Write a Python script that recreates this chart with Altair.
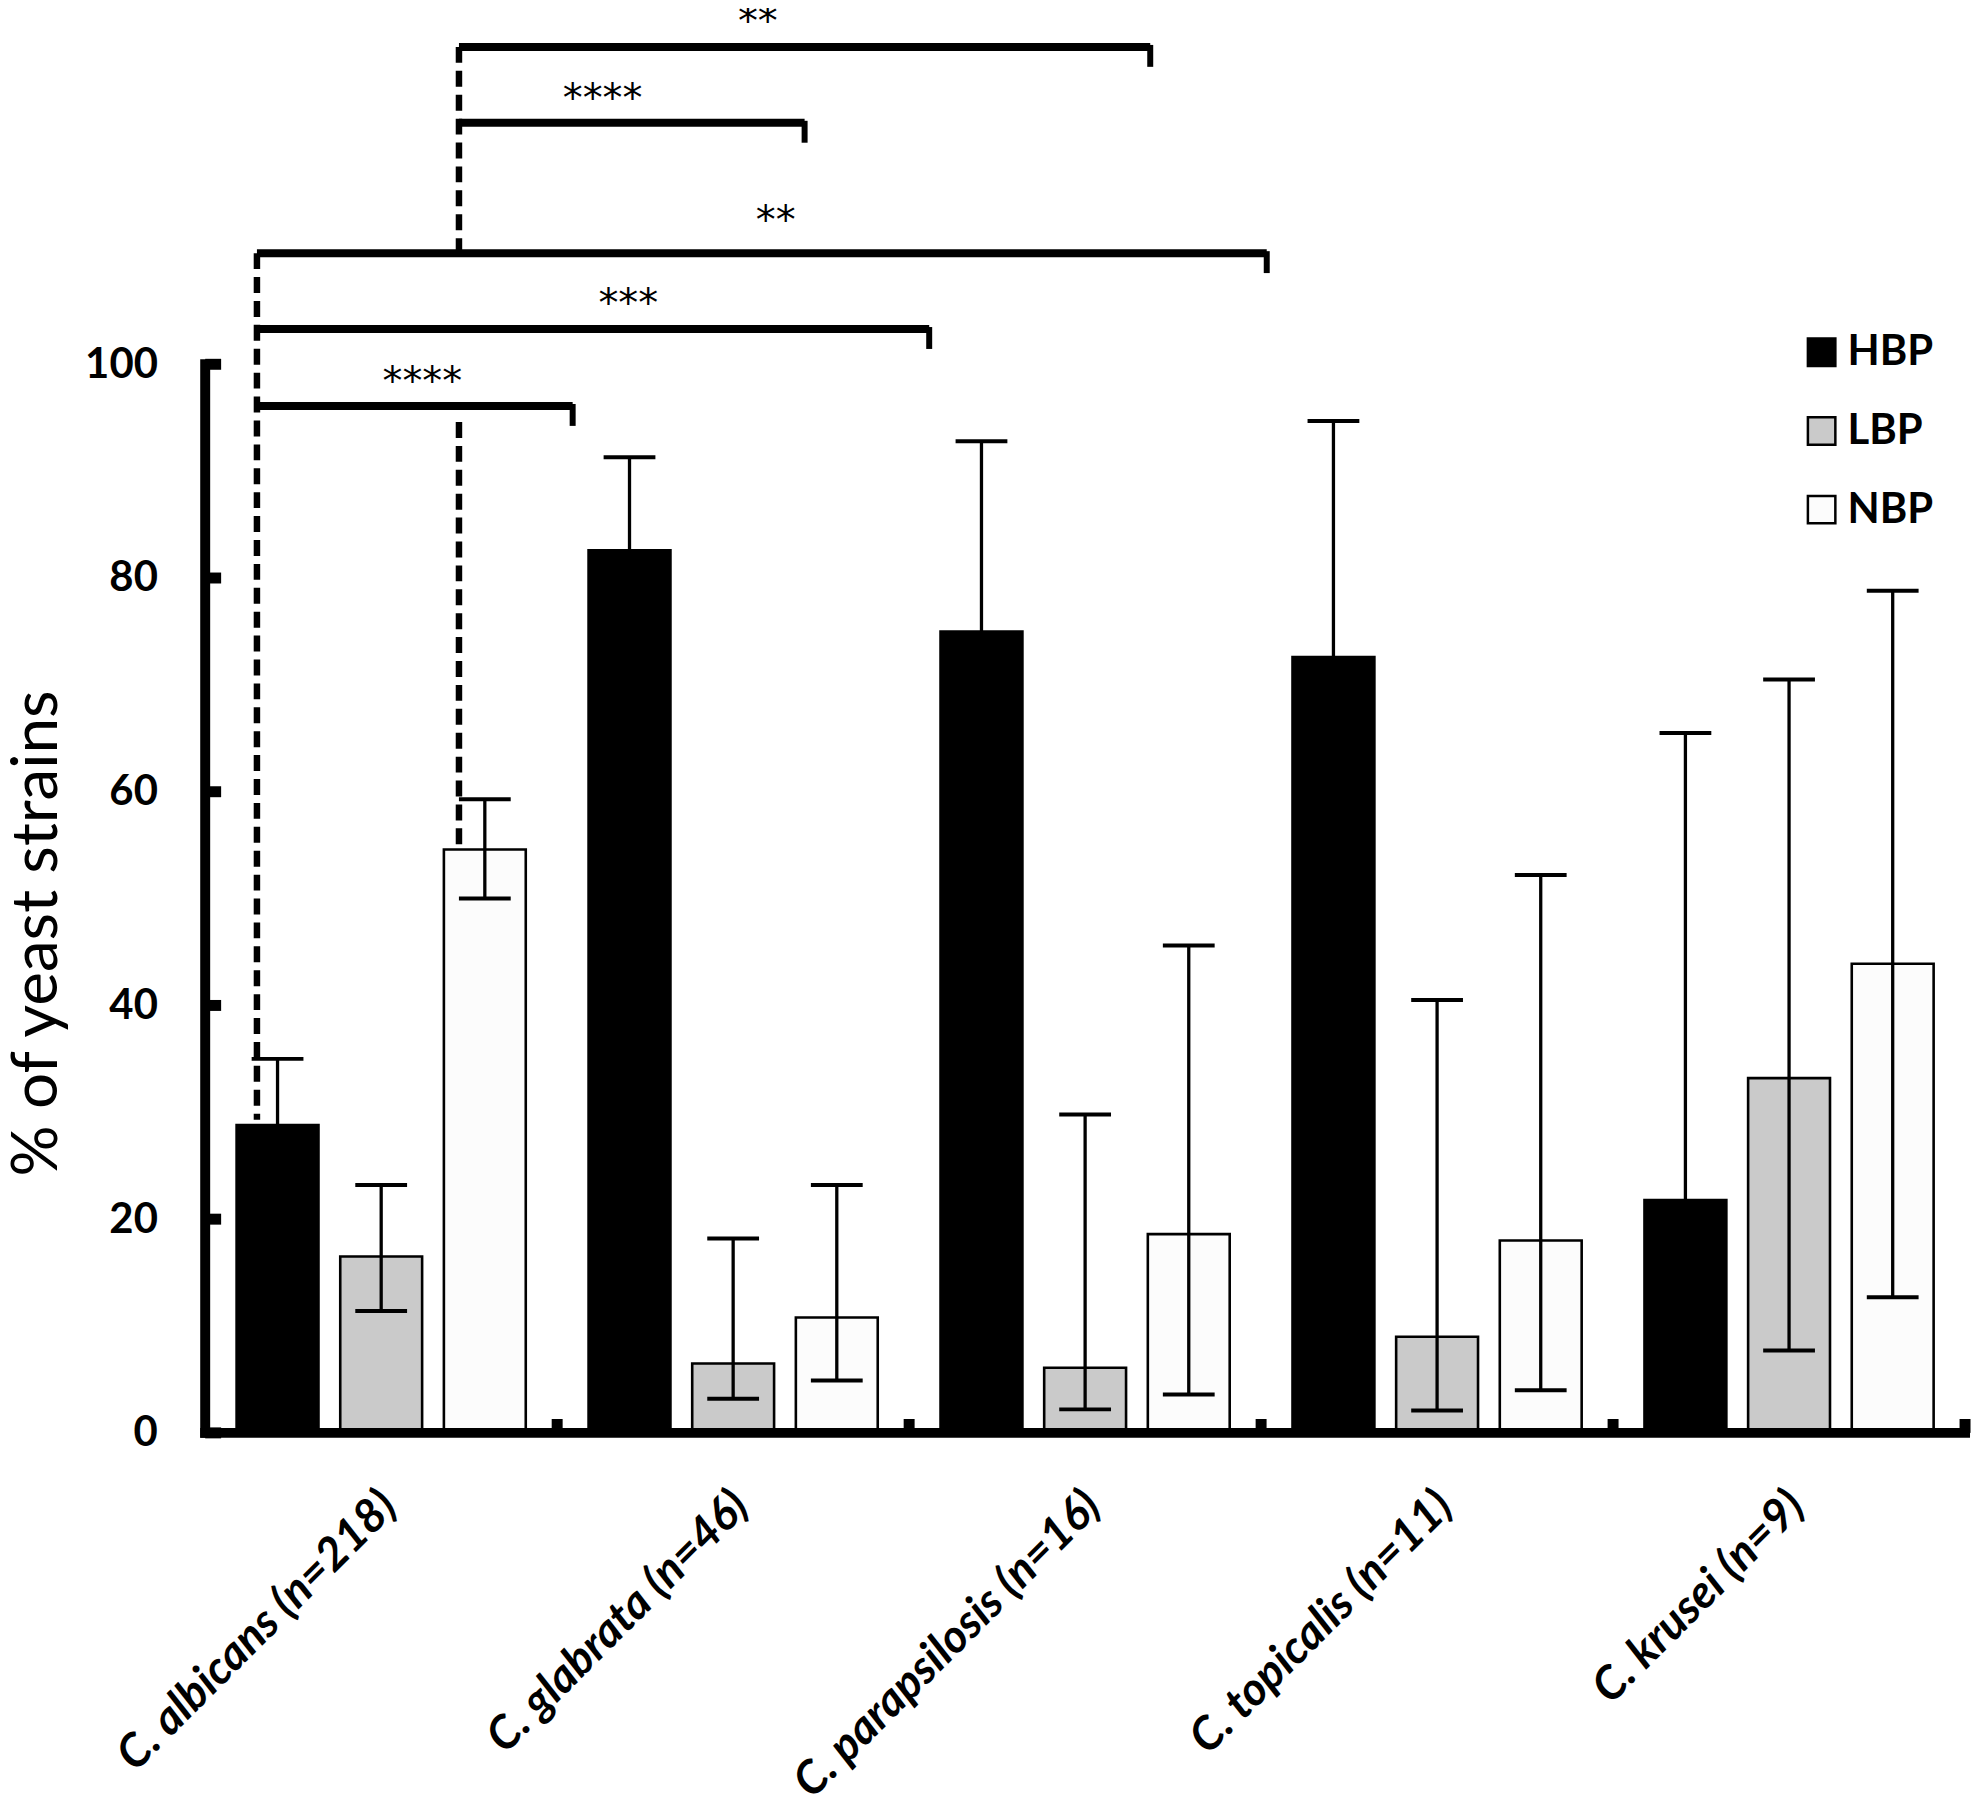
import altair as alt
import pandas as pd

# ---------------- data ----------------
species = ["C. albicans (n=218)", "C. glabrata (n=46)", "C. parapsilosis (n=16)",
           "C. topicalis (n=11)", "C. krusei (n=9)"]
series = ["HBP", "LBP", "NBP"]

hbp = [28.8, 82.6, 75.0, 72.6, 21.8]
lbp = [16.5, 6.5, 6.1, 9.0, 33.2]
nbp = [54.6, 10.8, 18.6, 18.0, 43.9]

hbp_upper = [35.0, 91.3, 92.8, 94.7, 65.5]
lbp_lower = [11.4, 3.2, 2.2, 2.1, 7.7]
lbp_upper = [23.2, 18.2, 29.8, 40.5, 70.5]
nbp_lower = [50.0, 4.9, 3.6, 4.0, 12.7]
nbp_upper = [59.3, 23.2, 45.6, 52.2, 78.8]

y_ticks = [0, 20, 40, 60, 80, 100]

# significance brackets, x in "species slot" units (0 = left edge of first group)
br_x1 = [0.721, 0.721, 0.147, 0.147, 0.147]
br_x2 = [2.685, 1.703, 3.016, 2.057, 1.044]
br_y = [129.7, 122.6, 110.4, 103.3, 96.1]
br_label = ["**", "****", "**", "***", "****"]
br_label_x = [1.570, 1.129, 1.621, 1.202, 0.617]
br_label_y = [132.6, 125.4, 114.0, 106.2, 98.9]

# dashed connectors
dash_x = [0.147, 0.721, 0.721]
dash_y1 = [110.4, 129.7, 94.6]
dash_y2 = [29.3, 110.4, 55.0]

# ---------------- tables ----------------
rows = []
vals = {"HBP": hbp, "LBP": lbp, "NBP": nbp}
lows = {"HBP": [None] * 5, "LBP": lbp_lower, "NBP": nbp_lower}
ups = {"HBP": hbp_upper, "LBP": lbp_upper, "NBP": nbp_upper}
for i, sp in enumerate(species):
    for s in series:
        rows.append({"species": sp, "series": s, "value": vals[s][i],
                     "lower": lows[s][i], "upper": ups[s][i]})
df = pd.DataFrame(rows)
df_low = df.dropna(subset=["lower"])

br = pd.DataFrame({"x1": br_x1, "x2": br_x2, "y": br_y, "label": br_label,
                   "lx": br_label_x, "ly": br_label_y})
dash = pd.DataFrame({"x": dash_x, "y1": dash_y1, "y2": dash_y2})
ticks_df = pd.DataFrame({"t": y_ticks})
sp_df = pd.DataFrame({"species": species})
zero_df = pd.DataFrame({"z": [0]})

W = 1767
H = 1427
YMAX = 133

xscale = alt.Scale(domain=species, paddingInner=0, paddingOuter=0)
xoff_scale = alt.Scale(domain=series, paddingInner=0.21, paddingOuter=0.303)
yscale = alt.Scale(domain=[0, YMAX], nice=False, zero=True)

x_axis = alt.Axis(title=None, labelAngle=-45, labelAlign="right", labelBaseline="middle",
                  labelFont="Lato", labelFontSize=46, labelFontStyle="italic",
                  labelFontWeight="bold", labelColor="black", labelPadding=66,
                  labelOffset=8, labelLimit=1000, domain=False, ticks=False, grid=False)
y_axis = alt.Axis(title="% of yeast strains", values=y_ticks, domain=False, ticks=False,
                  grid=False, labelFont="Lato", labelFontSize=42, labelFontWeight="bold",
                  labelColor="black", labelPadding=48,
                  titleFont="Lato", titleFontSize=64, titleFontWeight="normal",
                  titleColor="black", titleX=-168, titleY=925, titleAngle=270,
                  titleAlign="center", titleBaseline="middle")

X = alt.X("species:N", sort=species, scale=xscale, axis=x_axis)
XO = alt.XOffset("series:N", sort=series, scale=xoff_scale)

noview = alt.ViewBackground(stroke="transparent", strokeWidth=0)

bars = alt.Chart(df).mark_bar(stroke="black", strokeWidth=2.6).encode(
    x=X, xOffset=XO,
    y=alt.Y("value:Q", scale=yscale, axis=y_axis),
    fill=alt.Fill("series:N", sort=series,
                  scale=alt.Scale(domain=series, range=["#000000", "#cacaca", "#fcfcfc"]),
                  legend=alt.Legend(title=None, orient="none", legendX=1602, legendY=321,
                                    symbolType="square", symbolSize=760,
                                    symbolStrokeColor="black", symbolStrokeWidth=2.5,
                                    labelFont="Lato", labelFontSize=42, labelFontWeight="bold",
                                    labelColor="black", labelOffset=5, rowPadding=37)),
)

err_up = alt.Chart(df).mark_rule(color="black", strokeWidth=3.3).encode(
    x=X, xOffset=XO, y=alt.Y("value:Q"), y2="upper:Q")
err_lo = alt.Chart(df_low).mark_rule(color="black", strokeWidth=3.3).encode(
    x=X, xOffset=XO, y=alt.Y("lower:Q"), y2="value:Q")
cap_up = alt.Chart(df).mark_tick(orient="horizontal", color="black", size=52,
                                 thickness=4, opacity=1).encode(
    x=X, xOffset=XO, y=alt.Y("upper:Q"))
cap_lo = alt.Chart(df_low).mark_tick(orient="horizontal", color="black", size=52,
                                     thickness=4, opacity=1).encode(
    x=X, xOffset=XO, y=alt.Y("lower:Q"))

y_line = alt.Chart(zero_df).mark_rule(color="black", strokeWidth=10, strokeCap="square").encode(
    x=alt.value(0), y=alt.Y(datum=0), y2=alt.Y2(datum=100))
x_line = alt.Chart(zero_df).mark_rule(color="black", strokeWidth=10, strokeCap="square").encode(
    y=alt.Y(datum=0), x=alt.value(0), x2=alt.value(W))
y_tick_marks = alt.Chart(ticks_df).mark_rule(color="black", strokeWidth=11).encode(
    y=alt.Y("t:Q"), x=alt.value(0), x2=alt.value(16))
x_tick_marks = alt.Chart(sp_df).mark_rule(color="black", strokeWidth=11).encode(
    x=alt.X("species:N", sort=species, scale=xscale, bandPosition=1),
    y=alt.Y(datum=0), y2=alt.Y2(datum=1.3))

base = alt.layer(bars, err_up, err_lo, cap_up, cap_lo, y_line, x_line,
                 y_tick_marks, x_tick_marks).properties(view=noview)

qx = alt.Scale(domain=[0, 5], nice=False, zero=False)
br_lines = alt.Chart(br).mark_rule(color="black", strokeWidth=8).encode(
    x=alt.X("x1:Q", scale=qx, axis=None), x2="x2:Q", y=alt.Y("y:Q"))
br_hooks = alt.Chart(br).mark_tick(orient="vertical", color="black", size=22,
                                   thickness=6, yOffset=9, opacity=1).encode(
    x=alt.X("x2:Q", scale=qx, axis=None), y=alt.Y("y:Q"))
dashes = alt.Chart(dash).mark_rule(color="black", strokeWidth=6.5, strokeDash=[16, 8]).encode(
    x=alt.X("x:Q", scale=qx, axis=None), y=alt.Y("y1:Q"), y2="y2:Q")
br_text = alt.Chart(br).mark_text(font="DejaVu Sans", fontSize=40, color="black",
                                  align="center", baseline="middle", dy=6).encode(
    x=alt.X("lx:Q", scale=qx, axis=None), y=alt.Y("ly:Q"), text="label:N")

annot = alt.layer(dashes, br_lines, br_hooks, br_text).properties(view=noview)

chart = alt.layer(base, annot).resolve_scale(x="independent").properties(
    width=W, height=H,
    autosize=alt.AutoSizeParams(type="none"),
    padding={"left": 198, "top": 0, "right": 10, "bottom": 380},
    view=noview,
).configure_view(stroke="transparent", strokeWidth=0).configure_axis(
    domain=False, grid=False, ticks=False
).configure(background="white")

chart.save("out.html", embed_options={"renderer": "svg", "actions": False})
